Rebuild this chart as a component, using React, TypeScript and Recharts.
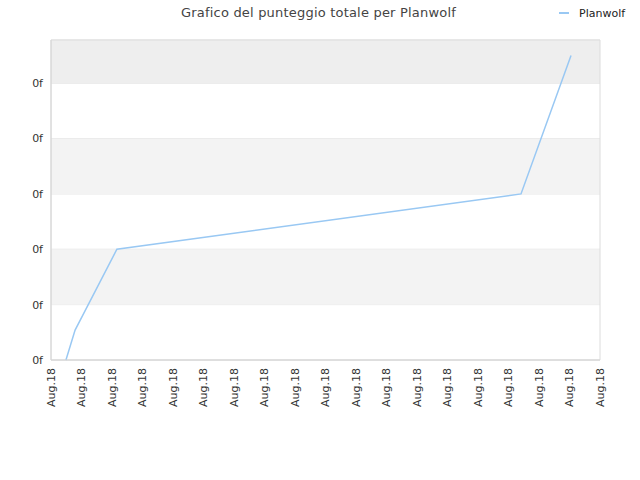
import React from 'react';
import {
  LineChart,
  Line,
  XAxis,
  YAxis,
  CartesianGrid,
  ReferenceArea,
} from 'recharts';

const TITLE = 'Grafico del punteggio totale per Planwolf';
const SERIES_NAME = 'Planwolf';

// x positions on a 0..18 date scale, y in grid units
const POINT_X = [0.49, 0.79, 2.16, 15.41, 17.05];
const POINT_Y = [0, 0.54, 2.0, 3.0, 5.5];

const X_TICKS = Array.from({ length: 19 }, (_, i) => i);
const X_LABEL = 'Aug.18';
const Y_TICKS = [0, 1, 2, 3, 4, 5];
const Y_LABEL = '0f';
const Y_MAX = 5.78;

const BANDS: [number, number, string][] = [
  [1, 2, '#f3f3f3'],
  [3, 4, '#f3f3f3'],
  [5, Y_MAX, '#eeeeee'],
];

const data = POINT_X.map((x, i) => ({ x, score: POINT_Y[i] }));

const FONT = 'DejaVu Sans, sans-serif';

function XTick(props: any) {
  const { x, y } = props;
  return (
    <text
      x={x}
      y={y}
      transform={`rotate(-90, ${x}, ${y})`}
      textAnchor="end"
      dy="0.35em"
      fontSize={11}
      fill="#333"
      fontFamily={FONT}
    >
      {X_LABEL}
    </text>
  );
}

export default function App() {
  return (
    <div style={{ position: 'absolute', left: 0, top: 0, width: 640, height: 480, background: '#fff' }}>
      <svg width={640} height={480} style={{ position: 'absolute', left: 0, top: 0 }}>
        <text
          x={318.5}
          y={17}
          textAnchor="middle"
          fontSize={13}
          letterSpacing={0.2}
          fill="#444"
          fontFamily={FONT}
        >
          {TITLE}
        </text>
        <line x1={559} x2={569} y1={13} y2={13} stroke="#99c8f3" strokeWidth={2} />
        <text x={579} y={17} fontSize={11} fill="#222" fontFamily={FONT}>
          {SERIES_NAME}
        </text>
      </svg>
      <div style={{ position: 'absolute', left: 0, top: 0 }}>
        <LineChart
          width={640}
          height={480}
          data={data}
          margin={{ top: 40, right: 40, bottom: 60, left: 0 }}
        >
          {BANDS.map(([y1, y2, fill], i) => (
            <ReferenceArea key={i} x1={0} x2={18} y1={y1} y2={y2} fill={fill} fillOpacity={1} stroke="none" />
          ))}
          <CartesianGrid vertical={false} stroke="#e2e2e2" />
          <ReferenceArea x1={0} x2={18} y1={0} y2={Y_MAX} fill="none" stroke="#dcdcdc" strokeWidth={1} />
          <XAxis
            dataKey="x"
            type="number"
            domain={[0, 18]}
            ticks={X_TICKS}
            interval={0}
            height={60}
            tick={<XTick />}
            tickLine={false}
            axisLine={{ stroke: '#d6d6d6' }}
          />
          <YAxis
            type="number"
            domain={[0, Y_MAX]}
            ticks={Y_TICKS}
            width={51}
            tickFormatter={() => Y_LABEL}
            tickLine={false}
            axisLine={{ stroke: '#d6d6d6' }}
            tick={{ fontSize: 11, fill: '#333', fontFamily: FONT }}
          />
          <Line
            type="linear"
            dataKey="score"
            stroke="#99c8f3"
            strokeWidth={1.5}
            dot={false}
            isAnimationActive={false}
          />
        </LineChart>
      </div>
    </div>
  );
}
